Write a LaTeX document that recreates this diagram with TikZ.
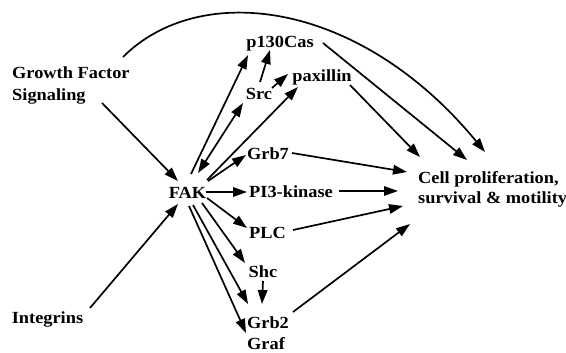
\documentclass[tikz,border=0pt]{standalone}
\usepackage{fontspec}
\setmainfont{Liberation Serif}[FakeStretch=1.08]
\usetikzlibrary{arrows.meta,calc}
\begin{document}
\begin{tikzpicture}[x=1pt,y=-1pt,
  lbl/.style={font=\bfseries\fontsize{17}{20}\selectfont, inner sep=1pt},
  tip/.tip={Triangle[length=14pt,width=9.5pt]},
  arr/.style={line width=1.7pt, -tip},
  arrboth/.style={line width=1.7pt, tip-tip}]
\useasboundingbox (0,0) rectangle (566,353);
% nodes
\node[lbl,anchor=west,align=left,font=\bfseries\fontsize{17}{22}\selectfont] (GF) at (11,85) {Growth Factor\\Signaling};
\node[lbl,anchor=base] (INT) at (47.5,323) {Integrins};
\node[lbl,anchor=base] (FAK) at (187.5,198) {FAK};
\node[lbl,anchor=base] (p130) at (280,48) {p130Cas};
\node[lbl,anchor=base] (Src) at (259,100) {Src};
\node[lbl,anchor=base] (pax) at (322,82) {paxillin};
\node[lbl,anchor=base] (Grb7) at (268,160) {Grb7};
\node[lbl,anchor=base] (PI3K) at (291,197) {PI3-kinase};
\node[lbl,anchor=base] (PLC) at (267.5,238) {PLC};
\node[lbl,anchor=base] (Shc) at (263,277) {Shc};
\node[lbl,anchor=base] (Grb2) at (268,328) {Grb2};
\node[lbl,anchor=base] (Graf) at (266,349) {Graf};
\node[lbl,anchor=west,align=left] (Cell) at (417,189) {Cell proliferation,\\survival \& motility};
% inputs to FAK
\draw[arr] ($(GF.west)+(91,18)$) -- ($(FAK.base)+(-9.5,-17)$);
\draw[arr] ($(INT.base)+(42.5,-15)$) -- ($(FAK.base)+(-9.5,6)$);
% FAK upward
\draw[arr] ($(FAK.base)+(3.5,-24)$) -- ($(p130.base)+(-32,7)$);
\draw[arrboth] ($(FAK.base)+(10.5,-25)$) -- ($(Src.base)+(-16,3)$);
\draw[arr] ($(FAK.base)+(19.5,-18)$) -- ($(pax.base)+(-24,5)$);
\draw[arr] ($(Src.base)+(13,-12)$) -- ($(pax.base)+(-34,-8)$);
\draw[arr] ($(Src.base)+(1,-18)$) -- ($(p130.base)+(-10,2)$);
% FAK right and downward
\draw[arr] ($(FAK.base)+(20.5,-17)$) -- ($(Grb7.base)+(-22,-5)$);
\draw[arr] ($(FAK.base)+(18.5,-6)$) -- ($(PI3K.base)+(-44,-5)$);
\draw[arr] ($(FAK.base)+(19.5,0)$) -- ($(PLC.base)+(-20.5,-10)$);
\draw[arr] ($(FAK.base)+(14.5,5)$) -- ($(Shc.base)+(-18,-14)$);
\draw[arr] ($(FAK.base)+(5.5,7)$) -- ($(Grb2.base)+(-20,-24)$);
\draw[arr] ($(FAK.base)+(1.5,8)$) -- ($(Graf.base)+(-20,-16)$);
\draw[arr] ($(Shc.base)+(0,4)$) -- ($(Grb2.base)+(-6,-24)$);
% to cell response
\draw[arr] ($(GF.west)+(112,-28)$) .. controls (200,-20) and (360,0) .. ($(Cell.west)+(68,-37)$);
\draw[arr] ($(p130.base)+(43,-5)$) -- ($(Cell.west)+(50,-29)$);
\draw[arr] ($(pax.base)+(28,3)$) -- ($(Cell.west)+(3,-32)$);
\draw[arr] ($(Grb7.base)+(24,-7)$) -- ($(Cell.west)+(-10,-17)$);
\draw[arr] ($(PI3K.base)+(48,-6)$) -- ($(Cell.west)+(-19,2)$);
\draw[arr] ($(PLC.base)+(25.5,-8)$) -- ($(Cell.west)+(-14,17)$);
\draw[arr] ($(Grb2.base)+(25,-16)$) -- ($(Cell.west)+(-7,35)$);
\end{tikzpicture}
\end{document}
